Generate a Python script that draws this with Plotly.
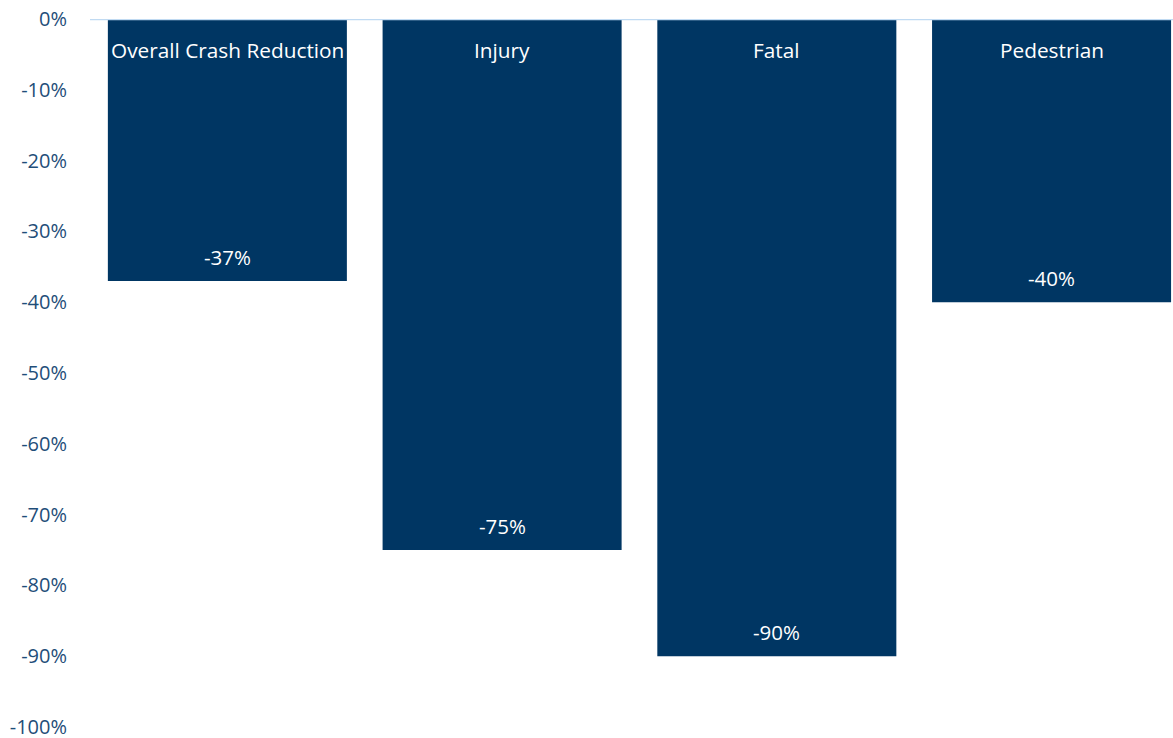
import plotly.graph_objects as go

categories = ["Overall Crash Reduction", "Injury", "Fatal", "Pedestrian"]
values = [-37, -75, -90, -40]
tick_vals = [0, -10, -20, -30, -40, -50, -60, -70, -80, -90, -100]
tick_text = ["0%", "-10%", "-20%", "-30%", "-40%", "-50%", "-60%", "-70%", "-80%", "-90%", "-100%"]

BAR = "#003663"
TICK = "#1F4E79"
FONT = "Open Sans, sans-serif"

fig = go.Figure()
fig.add_trace(go.Bar(
    x=categories, y=values,
    marker=dict(color=BAR, line=dict(width=0)),
    hoverinfo="skip",
))
for c, v in zip(categories, values):
    fig.add_annotation(x=c, y=0, text=c, showarrow=False, yanchor="middle", yshift=-31,
                       font=dict(color="white", size=20.8, family=FONT))
    fig.add_annotation(x=c, y=v, text=f"{v}%", showarrow=False, yanchor="middle", yshift=24,
                       font=dict(color="white", size=20.5, family=FONT))

fig.update_layout(
    width=1173, height=738,
    margin=dict(l=90, r=0, t=19, b=11, autoexpand=False),
    plot_bgcolor="white", paper_bgcolor="white",
    bargap=0.13, showlegend=False,
    xaxis=dict(range=[-0.5, 3.442], showticklabels=False, showgrid=False, zeroline=False,
               showline=False, automargin=False),
    yaxis=dict(range=[-100, 0], tickvals=tick_vals, ticktext=tick_text, showgrid=False,
               zeroline=False, showline=False, ticks="", ticklabelstandoff=22,
               ticklabeloverflow="allow", automargin=False,
               tickfont=dict(color=TICK, size=20, family=FONT)),
)
fig.add_shape(type="line", xref="paper", yref="y", x0=0, x1=1, y0=0, y1=0,
              line=dict(color="#C0DAF2", width=2.5), layer="above")
fig.write_html("out.html")
